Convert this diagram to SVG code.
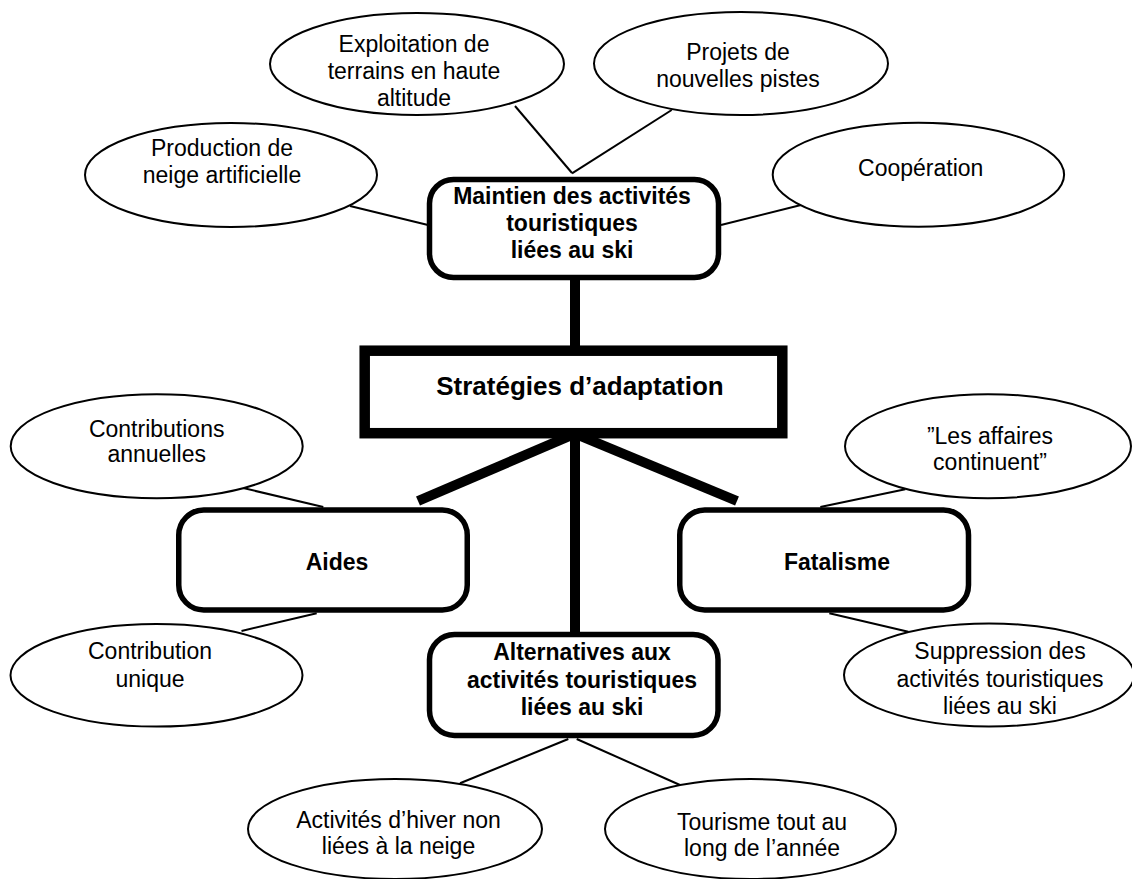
<svg xmlns="http://www.w3.org/2000/svg" width="1132" height="879" viewBox="0 0 1132 879">
<style>
.ell{fill:#fff;stroke:#000;stroke-width:2}
.box{fill:#fff;stroke:#000;stroke-width:5.5}
.thin{stroke:#000;stroke-width:2;fill:none}
.thick{stroke:#000;stroke-width:10;fill:none}
.t{font-family:"Liberation Sans",Arial,sans-serif;font-size:23px;fill:#000;text-anchor:middle}
.b{font-weight:bold}
</style>
<rect width="1132" height="879" fill="#fff"/>
<g id="connectors">
<line class="thin" x1="350" y1="206" x2="428" y2="225"/>
<line class="thin" x1="515" y1="106" x2="572" y2="173"/>
<line class="thin" x1="671.7" y1="110" x2="572" y2="173.3"/>
<line class="thin" x1="721" y1="225" x2="805" y2="204"/>
<line class="thick" x1="575" y1="278" x2="575" y2="352"/>
<line class="thick" x1="575" y1="432" x2="575" y2="636"/>
<line class="thick" x1="572" y1="435" x2="418" y2="501"/>
<line class="thick" x1="578" y1="435" x2="737" y2="501"/>
<line class="thin" x1="240" y1="487.3" x2="323.3" y2="507"/>
<line class="thin" x1="316.7" y1="613.3" x2="241.5" y2="631"/>
<line class="thin" x1="820.3" y1="507" x2="905.3" y2="489.3"/>
<line class="thin" x1="829.3" y1="613.3" x2="908.3" y2="631.7"/>
<line class="thin" x1="568.3" y1="739" x2="460" y2="783.3"/>
<line class="thin" x1="576.7" y1="739" x2="680" y2="785"/>
</g>
<g id="n-exploitation">
<ellipse class="ell" cx="417" cy="64" rx="147" ry="51"/>
<text class="t" x="414" y="52">Exploitation de</text>
<text class="t" x="414" y="78.5">terrains en haute</text>
<text class="t" x="414" y="106">altitude</text>
</g>
<g id="n-production">
<ellipse class="ell" cx="231" cy="175" rx="146" ry="52"/>
<text class="t" x="222" y="156">Production de</text>
<text class="t" x="222" y="183">neige artificielle</text>
</g>
<g id="n-projets">
<ellipse class="ell" cx="741" cy="63.5" rx="147" ry="51.5"/>
<text class="t" x="738" y="60">Projets de</text>
<text class="t" x="738" y="87">nouvelles pistes</text>
</g>
<g id="n-cooperation">
<ellipse class="ell" cx="918.4" cy="174.7" rx="145.7" ry="52"/>
<text class="t" x="920.7" y="176">Coopération</text>
</g>
<g id="n-maintien">
<rect class="box" x="429.5" y="179.5" width="289" height="98" rx="24"/>
<text class="t b" x="572" y="204">Maintien des activités</text>
<text class="t b" x="572" y="231">touristiques</text>
<text class="t b" x="572" y="258">liées au ski</text>
</g>
<g id="n-strategies">
<rect x="364.7" y="350.7" width="417.6" height="82.5" fill="#fff" stroke="#000" stroke-width="10.5"/>
<text class="t b" x="580" y="395" style="font-size:26px">Stratégies d’adaptation</text>
</g>
<g id="n-contributions">
<ellipse class="ell" cx="156.7" cy="446.2" rx="146" ry="52"/>
<text class="t" x="156.7" y="436.5">Contributions</text>
<text class="t" x="156.7" y="462">annuelles</text>
</g>
<g id="n-aides">
<rect class="box" x="178.75" y="510" width="288.5" height="100" rx="25"/>
<text class="t b" x="337" y="570">Aides</text>
</g>
<g id="n-contribution-unique">
<ellipse class="ell" cx="156.5" cy="675.3" rx="146" ry="51.3"/>
<text class="t" x="150" y="659.3">Contribution</text>
<text class="t" x="150" y="686.7">unique</text>
</g>
<g id="n-affaires">
<ellipse class="ell" cx="988" cy="446.2" rx="143" ry="52"/>
<text class="t" x="990" y="444">”Les affaires</text>
<text class="t" x="990" y="470">continuent”</text>
</g>
<g id="n-fatalisme">
<rect class="box" x="679.75" y="510" width="288.75" height="100" rx="25"/>
<text class="t b" x="837" y="570">Fatalisme</text>
</g>
<g id="n-suppression">
<ellipse class="ell" cx="989" cy="675" rx="145" ry="51.5"/>
<text class="t" x="1000" y="659.3">Suppression des</text>
<text class="t" x="1000" y="687.3">activités touristiques</text>
<text class="t" x="1000" y="714">liées au ski</text>
</g>
<g id="n-alternatives">
<rect class="box" x="429.5" y="634.5" width="288.5" height="101" rx="25"/>
<text class="t b" x="582" y="660">Alternatives aux</text>
<text class="t b" x="582" y="687.5">activités touristiques</text>
<text class="t b" x="582" y="715">liées au ski</text>
</g>
<g id="n-hiver">
<ellipse class="ell" cx="395" cy="829" rx="147" ry="50"/>
<text class="t" x="398.5" y="827.7">Activités d’hiver non</text>
<text class="t" x="398.5" y="854.3">liées à la neige</text>
</g>
<g id="n-tourisme">
<ellipse class="ell" cx="750.5" cy="829" rx="145.5" ry="50"/>
<text class="t" x="762" y="830">Tourisme tout au</text>
<text class="t" x="762" y="856">long de l’année</text>
</g>
</svg>
